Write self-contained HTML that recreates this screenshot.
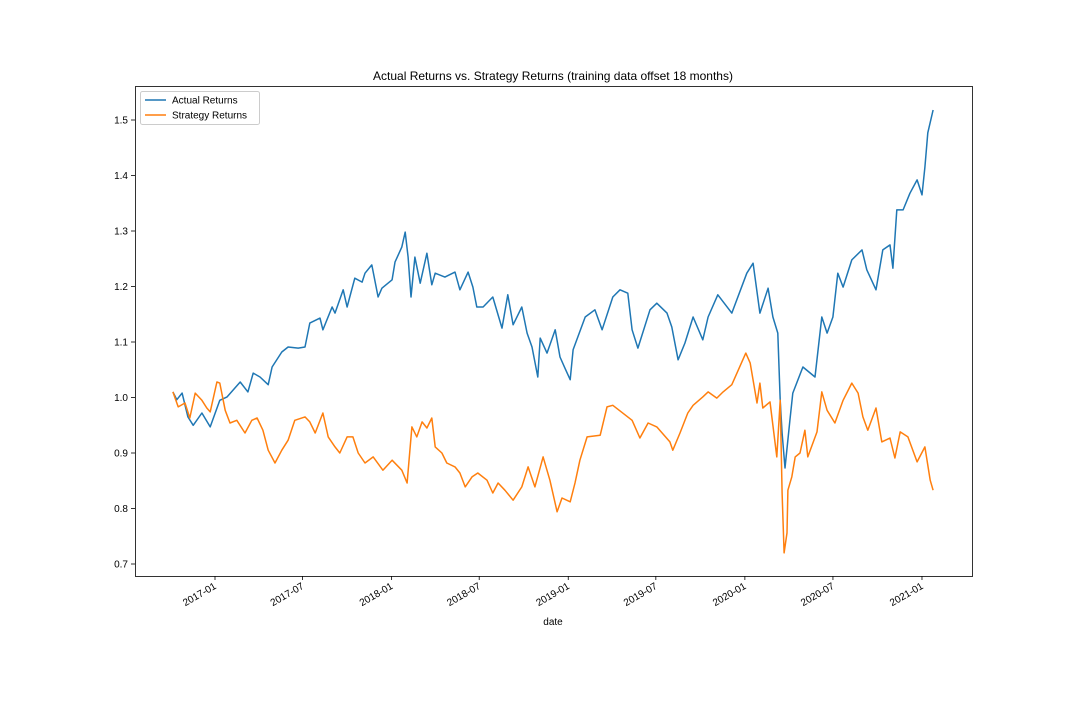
<!DOCTYPE html>
<html><head><meta charset="utf-8"><style>
html,body{margin:0;padding:0;background:#fff;}
svg text{font-family:"Liberation Sans","DejaVu Sans",sans-serif;fill:#000;}
</style></head><body>
<svg id="chart" width="1080" height="720" xmlns="http://www.w3.org/2000/svg">
<rect width="1080" height="720" fill="#fff"/>
<text x="553" y="80" font-size="12" text-anchor="middle">Actual Returns vs. Strategy Returns (training data offset 18 months)</text>
<g id="plot"></g>
<rect x="135.5" y="86.5" width="837" height="490" fill="none" stroke="#000" stroke-width="0.8"/>
<text x="553" y="625" font-size="10" text-anchor="middle">date</text>
<g>
<rect x="140.5" y="91.5" width="119" height="33" fill="#fff" stroke="#ccc" rx="2"/>
<line x1="145" y1="100" x2="166" y2="100" stroke="#1f77b4" stroke-width="1.5"/>
<text x="172" y="103.5" font-size="10">Actual Returns</text>
<line x1="145" y1="115" x2="166" y2="115" stroke="#ff7f0e" stroke-width="1.5"/>
<text x="172" y="118.5" font-size="10">Strategy Returns</text>
</g>
</svg>
<script>
// days since 2017-01-01
const actualDays=[-87,-79,-68,-56,-45,-27,-10,10,25,52,68,79,93,110,118,138,151,172,186,196,217,223,242,248,265,273,289,304,310,324,337,345,366,372,386,393,399,405,413,424,438,448,455,475,496,506,523,533,541,554,574,593,605,616,634,645,655,667,672,686,703,713,723,734,740,765,785,800,822,837,853,862,874,899,913,934,944,957,971,988,1008,1019,1039,1068,1099,1112,1126,1143,1153,1163,1168,1172,1178,1188,1194,1215,1240,1254,1265,1277,1287,1298,1316,1337,1347,1366,1380,1395,1401,1409,1422,1436,1451,1461,1467,1473,1484];
const actualValues=[1.010,0.996,1.008,0.965,0.950,0.972,0.947,0.995,1.001,1.028,1.010,1.044,1.037,1.023,1.055,1.082,1.091,1.089,1.091,1.134,1.143,1.122,1.163,1.152,1.194,1.163,1.215,1.208,1.224,1.239,1.181,1.197,1.212,1.244,1.271,1.298,1.253,1.181,1.253,1.206,1.260,1.203,1.224,1.217,1.226,1.194,1.226,1.199,1.163,1.163,1.181,1.125,1.185,1.131,1.163,1.116,1.091,1.037,1.107,1.080,1.122,1.073,1.053,1.032,1.086,1.145,1.158,1.122,1.181,1.194,1.188,1.122,1.089,1.158,1.170,1.152,1.127,1.068,1.098,1.145,1.104,1.145,1.185,1.152,1.224,1.242,1.152,1.197,1.145,1.116,0.995,0.936,0.873,0.959,1.008,1.055,1.037,1.145,1.116,1.145,1.224,1.199,1.248,1.266,1.230,1.194,1.266,1.275,1.233,1.338,1.338,1.368,1.392,1.365,1.415,1.477,1.518];
const strategyDays=[-87,-76,-62,-52,-41,-27,-17,-10,4,10,21,31,45,62,76,87,99,110,124,138,151,165,186,196,207,223,234,248,258,273,285,296,310,327,347,366,386,397,407,417,428,438,448,455,469,479,496,506,517,531,543,562,574,585,599,616,634,647,661,678,692,707,717,734,744,754,769,796,810,822,862,878,895,913,940,946,961,977,988,1008,1019,1037,1050,1068,1097,1106,1120,1126,1132,1147,1161,1168,1172,1176,1182,1184,1192,1199,1209,1219,1225,1244,1254,1265,1281,1298,1316,1329,1339,1349,1366,1378,1395,1405,1416,1432,1451,1467,1478,1484];
const strategyValues=[1.010,0.983,0.990,0.963,1.008,0.995,0.981,0.974,1.028,1.026,0.977,0.954,0.959,0.936,0.959,0.963,0.941,0.905,0.882,0.905,0.923,0.959,0.965,0.956,0.936,0.972,0.929,0.911,0.900,0.929,0.929,0.900,0.882,0.893,0.869,0.887,0.869,0.846,0.947,0.929,0.956,0.945,0.963,0.911,0.900,0.882,0.875,0.864,0.839,0.857,0.864,0.851,0.828,0.846,0.833,0.815,0.839,0.875,0.839,0.893,0.851,0.794,0.819,0.812,0.846,0.887,0.929,0.932,0.983,0.986,0.959,0.927,0.954,0.947,0.920,0.905,0.936,0.972,0.986,1.001,1.010,0.999,1.010,1.023,1.080,1.062,0.990,1.026,0.981,0.992,0.893,0.995,0.828,0.720,0.756,0.833,0.857,0.893,0.900,0.941,0.893,0.938,1.010,0.977,0.954,0.995,1.026,1.008,0.965,0.941,0.981,0.920,0.927,0.891,0.938,0.929,0.884,0.911,0.851,0.833];
const yTicks=[0.7,0.8,0.9,1.0,1.1,1.2,1.3,1.4,1.5];
const yTickLabels=["0.7","0.8","0.9","1.0","1.1","1.2","1.3","1.4","1.5"];
const xTickDays=[0,181,365,546,730,911,1095,1277,1461];
const xTickLabels=["2017-01","2017-07","2018-01","2018-07","2019-01","2019-07","2020-01","2020-07","2021-01"];

const NS="http://www.w3.org/2000/svg";
const plot=document.getElementById('plot');
function xPos(d){return 215+d*0.4839;}
function yPos(v){return 564-(v-0.7)*555;}
function mk(tag,attrs){const e=document.createElementNS(NS,tag);for(const k in attrs)e.setAttribute(k,attrs[k]);plot.appendChild(e);return e;}

yTicks.forEach((t,i)=>{
  const y=yPos(t);
  const l=mk('line',{x1:131,x2:135,y1:y,y2:y,stroke:'#000','stroke-width':0.8});
  
  
  const tx=mk('text',{x:128,y:y+3.5,'font-size':10,'text-anchor':'end'});
  tx.textContent=yTickLabels[i];
  
  
});
xTickDays.forEach((d,i)=>{
  const x=xPos(d);
  const l=mk('line',{x1:x,x2:x,y1:576,y2:580,stroke:'#000','stroke-width':0.8});
  
  
  const tx=mk('text',{x:x+2,y:588,'font-size':10,'text-anchor':'end',transform:`rotate(-30 ${x+2} 588)`});
  tx.textContent=xTickLabels[i];
  
  
});
function line(days,vals,color,name){
  const pts=days.map((d,i)=>xPos(d).toFixed(1)+','+yPos(vals[i]).toFixed(1)).join(' ');
  const p=mk('polyline',{points:pts,fill:'none',stroke:color,'stroke-width':1.5,'stroke-linejoin':'round'});
  
  
}
line(actualDays,actualValues,'#1f77b4','actual-returns-line');
line(strategyDays,strategyValues,'#ff7f0e','strategy-returns-line');
</script>
</body></html>
